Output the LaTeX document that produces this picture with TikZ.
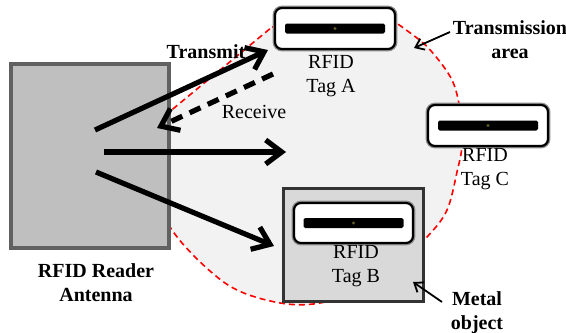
\documentclass[tikz,border=0pt]{standalone}
\usepackage{fontspec}
\setmainfont{Liberation Serif}
\usetikzlibrary{arrows.meta}
\begin{document}
\begin{tikzpicture}[x=0.5pt,y=-0.5pt,
  lbl/.style={font=\fontsize{10}{12}\selectfont, align=center, inner sep=0pt},
  lblb/.style={font=\fontsize{10}{12}\selectfont\bfseries, align=center, inner sep=0pt},
  tagbox/.style={draw=black, line width=1.1pt, fill=white, rounded corners=3.5pt,
    minimum width=60pt, minimum height=20.5pt, inner sep=0pt,
    preaction={draw=black!45, line width=2.4pt}},
  tagbar/.style={fill=black, minimum width=50pt, minimum height=5pt, inner sep=0pt, rounded corners=0.8pt},
  tagdot/.style={circle, fill=olive!60!black, minimum size=1.6pt, inner sep=0pt},
  wave/.style={line width=2.6pt, -{Straight Barb[length=8pt,width=12pt]}},
  pointer/.style={line width=0.9pt, -{Straight Barb[length=4pt,width=6pt]}},
]
\useasboundingbox (0,0) rectangle (566,332);
% transmission area
\draw[fill=black!5, draw=red, line width=0.8pt, dash pattern=on 3pt off 2pt]
  plot[smooth, tension=0.55] coordinates {(272,27) (335,14) (380,15) (413,35) (432,52) (452,80) (460,110)
   (462,145) (457,172) (447,210) (427,237) (380,283) (320,303) (275,302) (225,283) (172,230)
   (150,170) (168,113)} -- cycle;
% antenna
\node[draw=black!62, fill=black!25, line width=2pt, minimum width=79pt, minimum height=92pt, inner sep=0pt]
  (ant) at (90,156) {};
\node[lblb] (antlbl) at (96,283) {RFID Reader\\Antenna};
% metal object
\node[draw=black!80, fill=black!15, line width=1.2pt, minimum width=70pt, minimum height=56.5pt, inner sep=0pt]
  (metal) at (353.5,245) {};
% tags
\node[tagbox] (tagA) at (335,28.5) {};
\node[tagbar] (barA) at (tagA.center) {};
\node[tagdot] (dotA) at (tagA.center) {};
\node[tagbox] (tagC) at (488,125.5) {};
\node[tagbar] (barC) at (tagC.center) {};
\node[tagdot] (dotC) at (tagC.center) {};
\node[tagbox, minimum width=59.5pt, minimum height=20pt] (tagB) at (353.5,223) {};
\node[tagbar] (barB) at (tagB.center) {};
\node[tagdot] (dotB) at (tagB.center) {};
% labels
\node[lbl] (lblA) at (331,76) {RFID\\Tag A};
\node[lbl] (lblC) at (485,169) {RFID\\Tag C};
\node[lbl] (lblB) at (356,266) {RFID\\Tag B};
\node[lblb] (lblTA) at (510,40) {Transmission\\area};
\node[lblb] (lblM) at (477,313) {Metal\\object};
\node[lblb, anchor=base] (lblT) at (206,58) {Transmit};
\node[lbl, anchor=base] (lblR) at (254,118) {Receive};
% arrow end points
\coordinate (t1) at (95,130);
\coordinate (t2) at (268,50);
\coordinate (r1) at (273,74);
\coordinate (r2) at (157,128);
\coordinate (m1) at (104,152);
\coordinate (m2) at (286,152);
\coordinate (b1) at (96,172);
\coordinate (b2) at (274,246);
\coordinate (pa1) at (450,32);
\coordinate (pa2) at (414,48);
\coordinate (pm1) at (442,302);
\coordinate (pm2) at (413,282);
% arrows
\draw[wave] (t1) -- (t2);
\draw[wave, dash pattern=on 6pt off 4pt] (r1) -- (r2);
\draw[wave] (m1) -- (m2);
\draw[wave] (b1) -- (b2);
\draw[pointer] (pa1) -- (pa2);
\draw[pointer] (pm1) -- (pm2);
\end{tikzpicture}
\end{document}
